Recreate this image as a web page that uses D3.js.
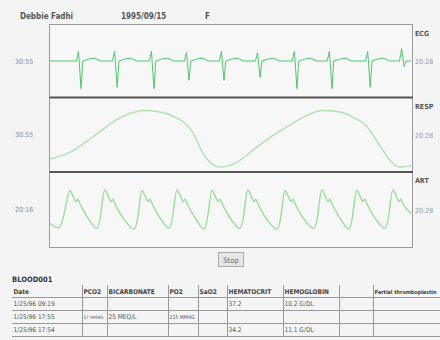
<!DOCTYPE html>
<html>
<head>
<meta charset="utf-8">
<script src="https://cdn.jsdelivr.net/npm/d3@7/dist/d3.min.js"></script>
<style>
  body { margin: 0; background: #f4f4f4; }
  svg { display: block; font-family: "DejaVu Sans Condensed", "DejaVu Sans", sans-serif; }
</style>
</head>
<body>
<div id="chart"></div>
<script>
// patient header
const titleParts = ["Debbie Fadhi", "1995/09/15", "F"];

// waveforms: [seconds, value]
const ecgPoints = [
  [0, 0], [0.5, 0], [0.73, 0], [0.79, 0.35], [0.86, -1.0], [0.91, 0], [1.1, 0.08], [1.25, 0.1], [1.4, 0],
  [1.73, 0], [1.79, 0.35], [1.86, -0.95], [1.91, 0], [2.1, 0.08], [2.25, 0.1], [2.4, 0],
  [2.75, 0], [2.81, 0.35], [2.88, -1.0], [2.93, 0], [3.12, 0.08], [3.27, 0.1], [3.42, 0],
  [3.72, 0], [3.78, 0.3], [3.85, -0.7], [3.9, 0], [4.09, 0.08], [4.24, 0.1], [4.39, 0],
  [4.69, 0], [4.75, 0.35], [4.82, -0.7], [4.87, 0], [5.06, 0.08], [5.21, 0.1], [5.36, 0],
  [5.69, 0], [5.75, 0.3], [5.82, -0.6], [5.87, 0], [6.06, 0.08], [6.21, 0.1], [6.36, 0],
  [6.71, 0], [6.77, 0.35], [6.84, -1.0], [6.89, 0], [7.08, 0.08], [7.23, 0.1], [7.38, 0],
  [7.68, 0], [7.74, 0.35], [7.81, -1.0], [7.86, 0], [8.05, 0.08], [8.2, 0.1], [8.35, 0],
  [8.74, 0], [8.8, 0.35], [8.87, -0.95], [8.92, 0], [9.11, 0.08], [9.26, 0.1], [9.41, 0],
  [9.68, 0], [9.74, 0.45], [9.81, -0.2], [9.86, 0], [10, 0]
];

const respPoints = [
  [0, 17], [0.08, 18], [0.55, 26], [1.19, 47], [1.86, 71], [2.22, 79], [2.58, 83],
  [3.05, 81], [3.46, 74], [3.68, 68], [3.96, 53], [4.24, 25], [4.49, 10], [4.71, 6],
  [5.12, 11], [5.62, 29], [6.09, 46], [6.57, 61], [7.06, 75], [7.53, 83], [8.03, 81],
  [8.39, 74], [8.78, 61], [9.14, 35], [9.42, 15], [9.7, 6], [10, 8]
];

const artPoints = [
  [0, 72], [0.25, 66],
  [0.55, 116], [0.63, 109], [0.72, 101], [0.77, 104], [0.85, 96], [1.05, 79], [1.3, 65],
  [1.52, 117], [1.6, 110], [1.69, 101], [1.74, 104], [1.82, 96], [2.02, 79], [2.33, 64],
  [2.55, 116], [2.63, 109], [2.72, 101], [2.77, 104], [2.85, 96], [3.05, 79], [3.3, 65],
  [3.52, 117], [3.6, 110], [3.69, 101], [3.74, 104], [3.82, 96], [4.02, 79], [4.27, 64],
  [4.49, 116], [4.57, 109], [4.66, 101], [4.71, 104], [4.79, 96], [4.99, 79], [5.26, 65],
  [5.48, 117], [5.56, 110], [5.65, 101], [5.7, 104], [5.78, 96], [5.98, 79], [6.29, 64],
  [6.51, 116], [6.59, 109], [6.68, 101], [6.73, 104], [6.81, 96], [7.01, 79], [7.31, 65],
  [7.53, 117], [7.61, 110], [7.7, 101], [7.75, 104], [7.83, 96], [8.03, 79], [8.28, 64],
  [8.5, 116], [8.58, 109], [8.67, 101], [8.72, 104], [8.8, 96], [9.0, 79], [9.28, 65],
  [9.5, 117], [9.58, 110], [9.67, 101], [9.72, 104], [9.8, 96], [10, 85]
];

const channelNames = ["ECG", "RESP", "ART"];
const startTimes = ["30:55", "30:55", "20:16"];
const endTimes = ["20:28", "20:28", "20:28"];

// lab table
const tableTitle = "BLOOD001";
const tableColumns = ["Date", "PCO2", "BICARBONATE", "PO2", "SaO2", "HEMATOCRIT", "HEMOGLOBIN", "", "Partial thromboplastin"];
const tableRows = [
  ["1/25/96 09:19", "", "", "", "", "37.2", "10.2 G/DL", "", ""],
  ["1/25/96 17:55", "57 MMHG", "25 MEQ/L", "215 MMHG", "", "", "", "", ""],
  ["1/25/96 17:54", "", "", "", "", "34.2", "11.1 G/DL", "", ""]
];

const width = 440, height = 340;
const left = 49.5, right = 412.5;
const panels = [
  { top: 24.5, bottom: 97.5, data: ecgPoints, domain: [-1.3, 1.3], color: "#4ccb68", w: 1, curve: d3.curveLinear },
  { top: 97.5, bottom: 172, data: respPoints, domain: [0, 100], color: "#aee3ae", w: 1.4, curve: d3.curveMonotoneX },
  { top: 172, bottom: 247.5, data: artPoints, domain: [40, 140], color: "#94e194", w: 1.4, curve: d3.curveCatmullRom.alpha(0.5) }
];
// column / row edges of the table
const colEdges = [12, 82, 107, 168, 198, 227, 283, 339, 373, 440];
const rowEdges = [285, 297, 310, 323, 336];

const svg = d3.select("#chart").append("svg")
  .attr("width", width)
  .attr("height", height);

svg.append("rect").attr("width", width).attr("height", height).attr("fill", "#f4f4f4");

// title
const titleX = [20, 121, 205];
svg.selectAll(".title").data(titleParts).enter().append("text")
  .attr("x", (d, i) => titleX[i])
  .attr("y", 19)
  .attr("font-size", 8)
  .attr("font-weight", "bold")
  .attr("fill", "#555")
  .text(d => d);

// plot frame
svg.append("rect")
  .attr("x", left).attr("y", 24.5)
  .attr("width", right - left).attr("height", 223)
  .attr("fill", "#f7f7f7")
  .attr("stroke", "#999");

const x = d3.scaleLinear().domain([0, 10]).range([50, 411]);

panels.forEach((p, i) => {
  const y = d3.scaleLinear().domain(p.domain).range([p.bottom - 0.5, p.top + 0.5]);
  const line = d3.line().x(d => x(d[0])).y(d => y(d[1])).curve(p.curve);
  svg.append("path")
    .datum(p.data)
    .attr("d", line)
    .attr("fill", "none")
    .attr("stroke", p.color)
    .attr("stroke-width", p.w);

  const mid = (p.top + p.bottom) / 2;
  svg.append("text")
    .attr("x", 15).attr("y", mid + 2.5)
    .attr("font-size", 7).attr("fill", "#8a8a8a")
    .text(startTimes[i]);
  svg.append("text")
    .attr("x", 415).attr("y", p.top + 11)
    .attr("font-size", 7).attr("font-weight", "bold").attr("fill", "#555")
    .text(channelNames[i]);
  svg.append("text")
    .attr("x", 415).attr("y", mid + 3)
    .attr("font-size", 7).attr("fill", "#999")
    .text(endTimes[i]);
});

// panel dividers
svg.selectAll(".divider").data([97.5, 172]).enter().append("line")
  .attr("x1", left).attr("x2", right + 0.5)
  .attr("y1", d => d).attr("y2", d => d)
  .attr("stroke", "#555").attr("stroke-width", 2);

// stop button
const btn = svg.append("g").attr("transform", "translate(218,252)");
btn.append("rect").attr("x", 0.5).attr("y", 0.5).attr("width", 25).attr("height", 14)
  .attr("fill", "#e6e6e6").attr("stroke", "#aaa");
btn.append("text").attr("x", 13).attr("y", 10.5).attr("text-anchor", "middle")
  .attr("font-size", 7.5).attr("fill", "#666").text("Stop");

// table
svg.append("text")
  .attr("x", 12).attr("y", 282)
  .attr("font-size", 7.5).attr("font-weight", "bold").attr("fill", "#333")
  .text(tableTitle);

svg.selectAll(".hline").data(rowEdges.slice(1)).enter().append("line")
  .attr("x1", 12).attr("x2", 440)
  .attr("y1", d => d + 0.5).attr("y2", d => d + 0.5)
  .attr("stroke", "#999");

svg.selectAll(".vline").data(colEdges.slice(1, -1)).enter().append("line")
  .attr("x1", d => d + 0.5).attr("x2", d => d + 0.5)
  .attr("y1", rowEdges[0]).attr("y2", rowEdges[rowEdges.length - 1])
  .attr("stroke", "#999");

// shrink a cell text so it stays inside its column
function fitCell(sel) {
  sel.each(function(d, j) {
    const room = colEdges[j + 1] - colEdges[j] - 5;
    const len = this.getComputedTextLength();
    if (len > room) {
      const fs = +d3.select(this).attr("font-size");
      d3.select(this).attr("font-size", (fs * room / len).toFixed(2));
    }
  });
}

svg.selectAll(".th").data(tableColumns).enter().append("text")
  .attr("x", (d, i) => colEdges[i] + 1.5)
  .attr("y", 294)
  .attr("font-size", 6.5).attr("font-weight", "bold").attr("fill", "#444")
  .text(d => d)
  .call(fitCell);

tableRows.forEach((row, r) => {
  svg.selectAll(".td" + r).data(row).enter().append("text")
    .attr("x", (d, i) => colEdges[i] + 1.5)
    .attr("y", rowEdges[r + 1] + 9)
    .attr("font-size", 6.5).attr("fill", "#555")
    .text(d => d)
    .call(fitCell);
});
</script>
</body>
</html>
